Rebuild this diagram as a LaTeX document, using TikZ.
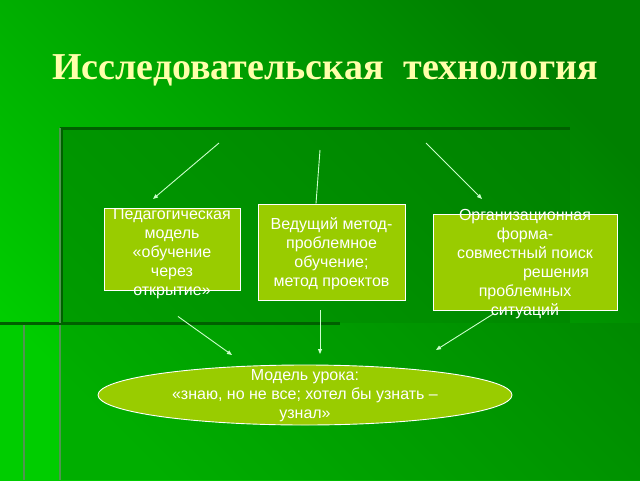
\documentclass[tikz,border=0pt]{standalone}
\usepackage{fontspec}
\setmainfont{Liberation Sans}
\newfontfamily\titlefont{Liberation Serif}
\usetikzlibrary{arrows.meta,shapes.geometric}

\definecolor{boxgreen}{RGB}{153,204,0}
\definecolor{titleyellow}{RGB}{255,255,170}
\definecolor{linkgreen}{RGB}{204,255,204}
\definecolor{bgdark}{RGB}{0,128,0}
\definecolor{bglight}{RGB}{0,205,0}
\definecolor{panelgreen}{RGB}{0,128,0}
\definecolor{rimdark}{RGB}{0,96,0}
\definecolor{rimlight}{RGB}{80,150,80}

\tikzset{every picture/.style={line width=0.75pt}}
\tikzset{
  box/.style={draw=white,fill=boxgreen,line width=0.9pt,inner sep=0pt},
  boxtext/.style={text=white,align=center,inner sep=0pt,font=\fontsize{16}{19}\selectfont},
  link/.style={draw=linkgreen,line width=0.9pt,-{Triangle[length=5pt,width=4pt]}}
}

\begin{document}
\begin{tikzpicture}[x=1pt,y=1pt,yscale=-1,xscale=1]
		\useasboundingbox (0,0) rectangle (640,480);

		%Shape: Background
		\shade [left color=bglight, right color=bgdark, shading angle=135] (0,0) rectangle (640,480);
		%Shape: Panel
		\fill [panelgreen, opacity=0.6] (60,128) rectangle (570,323);
		\fill [panelgreen, opacity=0.4] (60,323) rectangle (640,480);
		%Straight Lines
		\draw [rimdark, line width=3pt] (60,128) -- (570,128);
		\draw [rimdark, line width=3pt] (0,323) -- (340,323);
		\draw [rimdark, line width=1.5pt] (62,128) -- (62,323);
		\draw [rimlight, line width=1.5pt] (60,128) -- (60,323);
		\draw [rimlight, line width=1.5pt] (60,325) -- (60,480);
		\draw [rimlight, line width=1.5pt] (24,325) -- (24,480);

		% Text Node
		\node [text=titleyellow, font=\titlefont\bfseries\fontsize{38}{44}\selectfont] (title) at (325,70) {Исследовательская\; технология};

		%Shape: Rectangle
		\node [box, minimum width=136, minimum height=82] (ped) at (172,249) {};
		\node [box, minimum width=147, minimum height=96] (method) at (331.5,252) {};
		\node [box, minimum width=184, minimum height=96] (org) at (525,262) {};
		%Shape: Ellipse
		\node [box, ellipse, minimum width=414, minimum height=60] (lesson) at (305,395) {};

		% Text Node
		\node [boxtext] (pedtext) at (172,254) {Педагогическая\\модель\\«обучение\\через\\открытие»};
		\node [boxtext] (methodtext) at (331.5,254) {Ведущий метод-\\проблемное\\обучение;\\метод проектов};
		\node [boxtext] (orgtext) at (525,264) {Организационная\\форма-\\совместный поиск\\\hspace*{62pt}решения\\проблемных\\ситуаций};
		\node [boxtext] (lessontext) at (305,396) {Модель урока:\\«знаю, но не все; хотел бы узнать –\\узнал»};

		%Coordinates
		\coordinate (a1) at (219,143);  \coordinate (b1) at (153,199);
		\coordinate (a2) at (320,150);
		\coordinate (a3) at (426,143);  \coordinate (b3) at (482,199);
		\coordinate (b4) at (232,355);
		\coordinate (b5) at (320,354);
		\coordinate (b6) at (436,350);

		%Straight Lines
		\draw [link] (a1) -- (b1);
		\draw [link, -] (a2) -- ([xshift=-15.5]method.north);
		\draw [link] (a3) -- (b3);
		\draw [link] ([xshift=6,yshift=26]ped.south) -- (b4);
		\draw [link] ([xshift=-11.5,yshift=10]method.south) -- (b5);
		\draw [link] ([xshift=-31,yshift=3]org.south) -- (b6);
\end{tikzpicture}
\end{document}
